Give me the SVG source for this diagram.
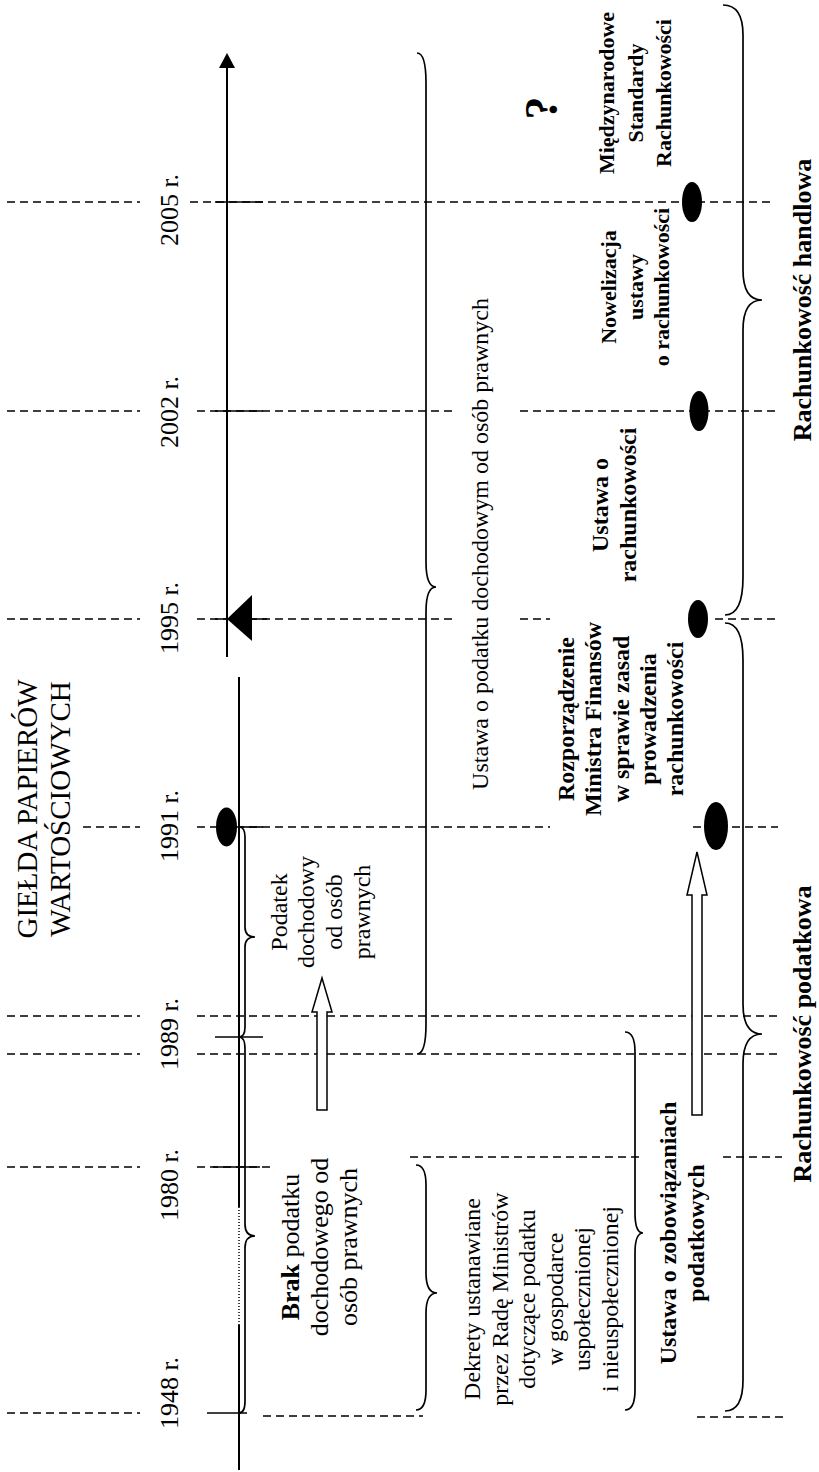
<svg xmlns="http://www.w3.org/2000/svg" width="819" height="1472" viewBox="0 0 819 1472">
<style>
.t{font-family:"Liberation Serif","Times New Roman",serif;fill:#000}
.b{font-weight:bold}
.dash{stroke:#000;stroke-width:1.3;stroke-dasharray:8,5;fill:none}
.ln{stroke:#000;stroke-width:1.6;fill:none}
.ax{stroke:#000;stroke-width:2;fill:none}
.br{stroke:#000;stroke-width:1.7;fill:none}
.dot{fill:#000}
.hollow{fill:#fff;stroke:#000;stroke-width:1.5}
</style>
<rect width="819" height="1472" fill="#fff"/>
<g id="gridlines">
<line class="dash" x1="7" y1="202" x2="140" y2="202"/><line class="dash" x1="190" y1="202" x2="775" y2="202"/>
<line class="dash" x1="7" y1="411" x2="140" y2="411"/><line class="dash" x1="197" y1="411" x2="455" y2="411"/><line class="dash" x1="520" y1="411" x2="778" y2="411"/>
<line class="dash" x1="7" y1="619" x2="140" y2="619"/><line class="dash" x1="197" y1="619" x2="455" y2="619"/><line class="dash" x1="520" y1="619" x2="550" y2="619"/><line class="dash" x1="715" y1="619" x2="778" y2="619"/>
<line class="dash" x1="83" y1="827" x2="140" y2="827"/><line class="dash" x1="197" y1="827" x2="550" y2="827"/><line class="dash" x1="693" y1="827" x2="778" y2="827"/>
<line class="dash" x1="7" y1="1016" x2="140" y2="1016"/><line class="dash" x1="197" y1="1016" x2="778" y2="1016"/>
<line class="dash" x1="7" y1="1054" x2="140" y2="1054"/><line class="dash" x1="197" y1="1054" x2="778" y2="1054"/>
<line class="dash" x1="7" y1="1167" x2="140" y2="1167"/><line class="dash" x1="197" y1="1167" x2="275" y2="1167"/>
<line class="dash" x1="410" y1="1157" x2="642" y2="1157"/><line class="dash" x1="723" y1="1157" x2="782" y2="1157"/>
<line class="dash" x1="7" y1="1413" x2="140" y2="1413"/><line class="dash" x1="263" y1="1416" x2="423" y2="1416"/><line class="dash" x1="697" y1="1417" x2="787" y2="1417"/>
</g>
<g id="axis">
<line class="ax" x1="227" y1="66" x2="227" y2="657"/>
<polygon class="dot" points="227,53 219,68 235,68"/>
<line class="ax" x1="239" y1="677" x2="239" y2="1207"/>
<line x1="239" y1="1207" x2="239" y2="1325" stroke="#000" stroke-width="1.5" stroke-dasharray="1,2"/>
<line class="ax" x1="239" y1="1325" x2="239" y2="1470"/>
<line class="ln" x1="215" y1="202" x2="263" y2="202"/>
<line class="ln" x1="215" y1="411" x2="263" y2="411"/>
<line class="ln" x1="215" y1="619" x2="267" y2="619"/>
<polygon class="dot" points="227,619 252,595 252,641"/>
<ellipse class="dot" cx="226.5" cy="827" rx="10.5" ry="19.5"/>
<line class="ln" x1="239" y1="827" x2="263" y2="827"/>
<line class="ln" x1="215" y1="1037" x2="263" y2="1037"/>
<line class="ln" x1="213" y1="1167" x2="260" y2="1167"/>
<line class="ln" x1="207" y1="1413" x2="247" y2="1413"/>
</g>
<g id="years" class="t" font-size="26" text-anchor="middle">
<text transform="translate(178,210) rotate(-90)">2005 r.</text>
<text transform="translate(178,412) rotate(-90)">2002 r.</text>
<text transform="translate(178,618) rotate(-90)">1995 r.</text>
<text transform="translate(178,826) rotate(-90)">1991 r.</text>
<text transform="translate(178,1034) rotate(-90)">1989 r.</text>
<text transform="translate(178,1185) rotate(-90)">1980 r.</text>
<text transform="translate(178,1393) rotate(-90)">1948 r.</text>
</g>
<g id="title">
<text class="t" font-size="29" text-anchor="middle" transform="translate(37,809) rotate(-90)"><tspan x="0" y="0">GIEŁDA PAPIERÓW</tspan><tspan x="0" y="33">WARTOŚCIOWYCH</tspan></text>
</g>
<g id="braces">
<path class="br" d="M239,827 Q245,827 245,837 L245,927 Q245,937 255,937 Q245,937 245,947 L245,1027 Q245,1037 239,1037"/>
<path class="br" d="M239,1037 Q245,1037 245,1049 L245,1224 Q245,1236 255,1236 Q245,1236 245,1248 L245,1401 Q245,1413 239,1413"/>
<path class="br" d="M417,53 Q426,53 426,83 L426,562 Q426,587 436,587 Q426,587 426,612 L426,1024 Q426,1054 417,1054"/>
<path class="br" d="M416,1165 Q426,1165 426,1185 L426,1273 Q426,1293 437,1293 Q426,1293 426,1313 L426,1390 Q426,1410 416,1410"/>
<path class="br" d="M625,1032 Q635,1032 635,1052 L635,1213 Q635,1233 643,1233 Q635,1233 635,1253 L635,1390 Q635,1410 625,1410"/>
<path class="br" d="M723,5 Q743,5 743,35 L743,270 Q743,300 762,300 Q743,300 743,330 L743,577 Q743,615 725,615"/>
<path class="br" d="M725,623 Q743,623 743,660 L743,1004 Q743,1034 762,1034 Q743,1034 743,1064 L743,1380 Q743,1411 725,1411"/>
</g>
<g id="arrows">
<polygon class="hollow" points="322,978 332,1012 327,1012 327,1110 317,1110 317,1012 312,1012"/>
<polygon class="hollow" points="697,852 707,895 702,895 702,1115 692,1115 692,895 687,895"/>
</g>
<g id="markers">
<ellipse class="dot" cx="692" cy="202" rx="10" ry="20"/>
<ellipse class="dot" cx="699" cy="411" rx="9.5" ry="20"/>
<ellipse class="dot" cx="698" cy="619" rx="10" ry="19"/>
<ellipse class="dot" cx="716" cy="826" rx="12" ry="24"/>
</g>
<g id="podatek">
<text class="t" font-size="24" text-anchor="middle" transform="translate(287,912) rotate(-90)"><tspan x="0" y="0">Podatek</tspan><tspan x="0" y="27">dochodowy</tspan><tspan x="0" y="55">od osób</tspan><tspan x="0" y="83">prawnych</tspan></text>
</g>
<g id="brak">
<text class="t" font-size="26" text-anchor="middle" transform="translate(299,1247) rotate(-90)"><tspan x="0" y="0"><tspan font-weight="bold">Brak</tspan> podatku</tspan><tspan x="0" y="29">dochodowego od</tspan><tspan x="0" y="58">osób prawnych</tspan></text>
</g>
<g id="dekrety">
<text class="t" font-size="24" text-anchor="middle" transform="translate(480,1299) rotate(-90)"><tspan x="0" y="0">Dekrety ustanawiane</tspan><tspan x="0" y="27.5">przez Radę Ministrów</tspan><tspan x="0" y="55">dotyczące podatku</tspan><tspan x="0" y="82.5">w gospodarce</tspan><tspan x="0" y="110">uspołecznionej</tspan><tspan x="0" y="137.5">i nieuspołecznionej</tspan></text>
</g>
<g id="ustawa-podatek">
<text class="t" font-size="24" text-anchor="middle" transform="translate(488,544) rotate(-90)">Ustawa o podatku dochodowym od osób prawnych</text>
</g>
<g id="rozporzadzenie">
<text class="t b" font-size="24" text-anchor="middle" transform="translate(574,719) rotate(-90)"><tspan x="0" y="0">Rozporządzenie</tspan><tspan x="0" y="27">Ministra Finansów</tspan><tspan x="0" y="54.5">w sprawie zasad</tspan><tspan x="0" y="82">prowadzenia</tspan><tspan x="0" y="109">rachunkowości</tspan></text>
</g>
<g id="ustawa-rach">
<text class="t b" font-size="24" text-anchor="middle" transform="translate(608,505) rotate(-90)"><tspan x="0" y="0">Ustawa o</tspan><tspan x="0" y="28">rachunkowości</tspan></text>
</g>
<g id="nowelizacja">
<text class="t b" font-size="22" text-anchor="middle" transform="translate(616,287) rotate(-90)"><tspan x="0" y="0">Nowelizacja</tspan><tspan x="0" y="26.5">ustawy</tspan><tspan x="0" y="53">o rachunkowości</tspan></text>
</g>
<g id="msr">
<text class="t b" font-size="22" text-anchor="middle" transform="translate(614,93) rotate(-90)"><tspan x="0" y="0">Międzynarodowe</tspan><tspan x="0" y="28.5">Standardy</tspan><tspan x="0" y="57">Rachunkowości</tspan></text>
</g>
<g id="question">
<text class="t b" font-size="46" text-anchor="middle" transform="translate(557,108) rotate(-90)">?</text>
</g>
<g id="zobowiazania">
<text class="t b" font-size="24" text-anchor="middle" transform="translate(676,1233) rotate(-90)"><tspan x="0" y="0">Ustawa o zobowiązaniach</tspan><tspan x="0" y="28">podatkowych</tspan></text>
</g>
<g id="handlowa">
<text class="t b" font-size="26" text-anchor="middle" transform="translate(811,300) rotate(-90)">Rachunkowość handlowa</text>
</g>
<g id="podatkowa">
<text class="t b" font-size="26" text-anchor="middle" transform="translate(811,1034) rotate(-90)">Rachunkowość podatkowa</text>
</g>
</svg>
